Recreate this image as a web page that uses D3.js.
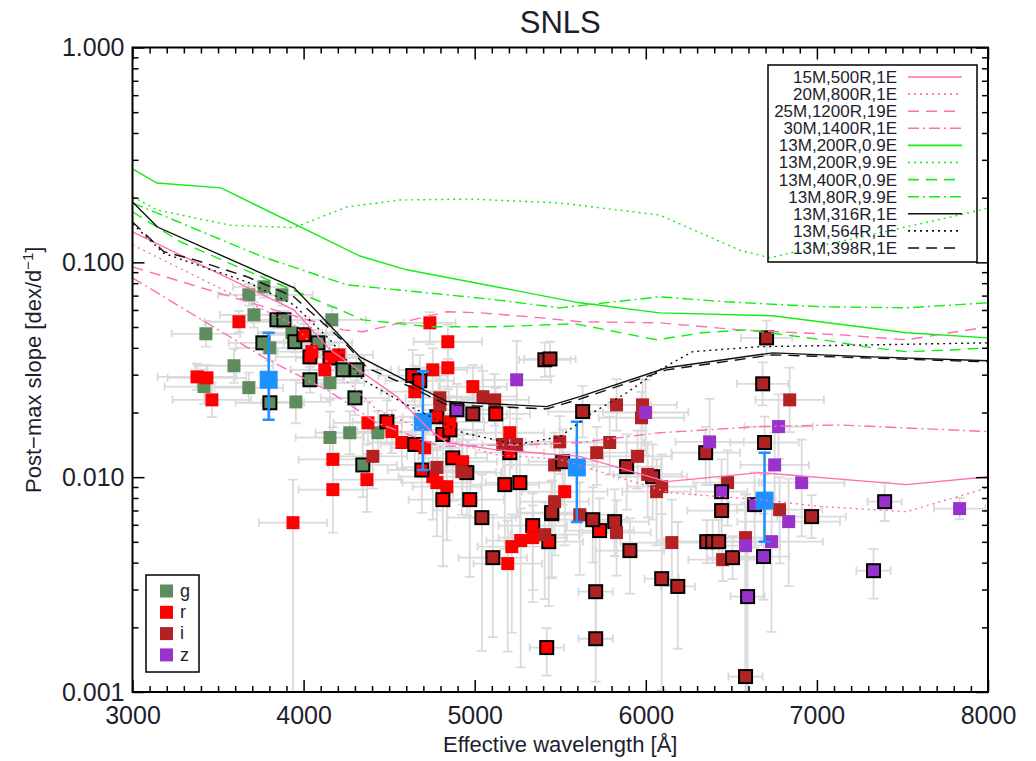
<!DOCTYPE html>
<html>
<head>
<meta charset="utf-8">
<script src="https://cdn.jsdelivr.net/npm/d3@7"></script>
<style>
  body { margin: 0; background: #fff; }
  text { font-family: "Liberation Sans", Arial, sans-serif; fill: #1e1e2e; }
</style>
</head>
<body>
<svg class="chart"></svg>
<script>
// [wavelength, slope, bordered, xerr, dex below, dex above]
const gPoints = [
  [3429,0.0465,0,200,0.06,0.06],[3593,0.0330,0,230,0.08,0.08],[3680,0.0261,0,200,0.07,0.07],
  [3418,0.0264,0,230,0.08,0.08],[3680,0.0706,0,180,0.05,0.05],[3768,0.0769,0,180,0.05,0.05],
  [3873,0.0706,0,180,0.05,0.05],[3710,0.0570,0,200,0.06,0.06],[3932,0.0470,0,200,0.06,0.06],
  [3762,0.0422,1,200,0.05,0.05],[3844,0.0540,1,150,0.04,0.04],[3885,0.0540,1,150,0.04,0.04],
  [3949,0.0427,1,200,0.05,0.05],[4084,0.0422,1,200,0.05,0.06],[4154,0.0275,0,200,0.08,0.08],
  [4165,0.0540,0,200,0.06,0.06],[4037,0.0284,1,200,0.06,0.06],[4230,0.0316,1,200,0.06,0.06],
  [3803,0.0222,1,200,0.08,0.08],[3955,0.0224,0,200,0.1,0.1],[4270,0.0161,0,200,0.1,0.1],
  [4154,0.0153,0,200,0.12,0.12],[4300,0.0234,1,200,0.08,0.08],[4311,0.0316,1,200,0.06,0.06],
  [4346,0.0114,1,200,0.15,0.15],[4434,0.0161,0,200,0.1,0.1],[3803,0.0400,0,200,0.06,0.06]
];
const rPoints = [
  [3377,0.0293,0,230,0.06,0.06],[3435,0.0290,0,230,0.06,0.06],[3464,0.0229,0,230,0.08,0.08],
  [3622,0.0529,0,200,0.05,0.05],[4002,0.0460,1,200,0.05,0.05],[4037,0.0363,1,200,0.06,0.06],
  [4048,0.0384,0,200,0.06,0.06],[4154,0.0359,1,200,0.06,0.06],[4206,0.0371,0,200,0.06,0.06],
  [4124,0.0316,0,200,0.07,0.07],[4171,0.0121,0,200,0.15,0.15],[4171,0.00875,0,200,0.2,0.15],
  [4370,0.00974,0,200,0.15,0.12],[4376,0.0179,0,200,0.1,0.1],[4487,0.0181,1,200,0.1,0.1],
  [4516,0.0163,0,200,0.1,0.1],[4574,0.0145,0,200,0.12,0.12],[4650,0.0142,1,200,0.12,0.12],
  [4708,0.0137,0,200,0.12,0.12],[4738,0.0523,0,150,0.1,0.05],[4843,0.0427,0,200,0.08,0.08],
  [4843,0.0323,0,200,0.1,0.1],[4755,0.0316,0,200,0.1,0.1],[4638,0.0297,1,200,0.12,0.12],
  [4679,0.0281,1,200,0.12,0.12],[4650,0.0250,0,200,0.12,0.12],[4779,0.0191,1,200,0.15,0.12],
  [5123,0.0197,1,200,0.12,0.12],[4989,0.0264,0,200,0.1,0.1],[4814,0.0158,1,200,0.15,0.12],
  [4855,0.0166,1,200,0.15,0.12],[4855,0.0181,0,200,0.12,0.12],[5205,0.0161,0,200,0.15,0.12],
  [5205,0.0130,1,200,0.15,0.12],[4872,0.0123,1,200,0.2,0.15],[4930,0.0118,0,200,0.2,0.15],
  [4779,0.00943,0,200,0.25,0.15],[4837,0.00903,0,200,0.25,0.15],[4755,0.01005,0,200,0.2,0.15],
  [4814,0.00786,1,200,0.31,0.15],[4971,0.00786,1,200,0.36,0.15],[5176,0.00923,1,200,0.3,0.15],
  [5264,0.00943,1,200,0.3,0.15],[5526,0.00856,0,250,0.25,0.15],[4691,0.0108,1,200,0.2,0.15],
  [5450,0.00676,1,200,0.3,0.15],[5339,0.00595,1,200,0.3,0.15],[5339,0.00523,0,200,0.3,0.15],
  [5433,0.00501,1,200,0.3,0.15],[5269,0.00507,0,200,0.59,0.15],[5217,0.00475,0,200,0.4,0.15],
  [5193,0.00396,0,200,0.41,0.2],[5730,0.00564,1,200,0.3,0.15],[5421,0.00161,1,100,0.13,0.09],
  [3938,0.00614,0,200,0.9,0.2]
];
const iPoints = [
  [4796,0.0234,0,200,0.12,0.12],[4796,0.0217,0,200,0.12,0.12],[4989,0.0197,1,200,0.12,0.12],
  [5048,0.0237,0,200,0.12,0.12],[5117,0.0229,0,200,0.12,0.12],[5410,0.0352,1,150,0.08,0.08],
  [5440,0.0355,1,150,0.08,0.08],[5164,0.0142,0,200,0.15,0.12],[5245,0.0142,0,200,0.15,0.12],
  [4954,0.0105,1,200,0.2,0.15],[4925,0.0106,0,200,0.2,0.15],[4779,0.0111,0,200,0.2,0.15],
  [5467,0.0114,0,250,0.2,0.15],[5450,0.00684,1,200,0.3,0.15],[5497,0.0146,0,200,0.15,0.12],
  [4405,0.0125,0,200,0.15,0.12],[5042,0.00648,1,200,0.62,0.2],[6706,0.0445,1,150,0.08,0.08],
  [6683,0.0272,1,150,0.1,0.1],[6841,0.0229,0,200,0.15,0.15],[5631,0.0202,1,200,0.12,0.12],
  [5829,0.0217,0,200,0.12,0.12],[5981,0.0217,0,200,0.12,0.12],[5975,0.0189,0,250,0.15,0.12],
  [5789,0.0145,0,200,0.15,0.12],[5713,0.0130,0,200,0.15,0.12],[5888,0.0112,1,200,0.2,0.15],
  [5952,0.0125,0,200,0.15,0.12],[6040,0.01005,1,200,0.2,0.15],[6011,0.0103,0,200,0.2,0.15],
  [6063,0.00856,0,200,0.25,0.15],[6093,0.00903,0,200,0.25,0.15],[6350,0.0130,1,200,0.15,0.12],
  [6694,0.0145,1,200,0.15,0.12],[6443,0.00699,1,200,0.2,0.15],[6478,0.00943,0,200,0.2,0.15],
  [6782,0.00706,0,250,0.25,0.15],[6969,0.00655,1,200,0.1,0.1],[5614,0.00669,0,200,0.28,0.15],
  [5690,0.00634,1,200,0.2,0.15],[5818,0.00621,1,200,0.16,0.15],[5829,0.00552,0,200,0.2,0.15],
  [5514,0.0118,1,200,0.2,0.15],[5467,0.00769,0,200,0.25,0.15],[5409,0.00540,0,200,0.3,0.15],
  [5106,0.00422,1,200,0.37,0.2],[5907,0.00455,1,200,0.2,0.15],[6152,0.00496,0,300,0.2,0.2],
  [6093,0.00337,1,100,0.52,0.3],[6187,0.00310,1,100,0.29,0.3],[5707,0.00293,1,100,0.2,0.3],
  [5707,0.00177,1,100,0.2,0.2],[6356,0.00501,1,250,0.1,0.1],[6391,0.00501,1,250,0.1,0.1],
  [6426,0.00501,1,250,0.1,0.1],[6583,0.00523,0,200,0.3,0.2],[6449,0.00413,0,200,0.1,0.1],
  [6507,0.00422,1,150,0.1,0.1],[6583,0.00118,1,100,0.1,0.85]
];
const zPoints = [
  [4896,0.0206,1,200,0.15,0.12],[5245,0.0284,0,200,0.64,0.18],[5999,0.0200,0,250,0.2,0.15],
  [6373,0.0146,0,200,0.2,0.2],[6776,0.0172,0,200,0.15,0.15],[6753,0.0114,0,200,0.2,0.15],
  [6911,0.00943,0,250,0.25,0.2],[6443,0.00856,1,150,0.2,0.15],[6636,0.00745,1,150,0.2,0.15],
  [6835,0.00621,0,300,0.3,0.2],[7396,0.00769,1,100,0.09,0.09],[7834,0.00714,0,150,0.05,0.05],
  [6583,0.00480,0,200,0.8,0.2],[6688,0.00427,1,150,0.2,0.2],[7331,0.00367,1,100,0.13,0.1],
  [6595,0.00278,1,100,0.5,0.3],[6735,0.00501,0,300,0.42,0.2]
];
// binned means: [wavelength, mean, low, high]
const meanPoints = [
  [3796,0.0284,0.0185,0.0470],[4697,0.0181,0.0108,0.0311],
  [5597,0.0111,0.00619,0.0181],[6694,0.00778,0.00501,0.0130]
];

// model curves [wavelength, slope]
const m15M500R = [[3000,0.1387],[3943,0.0601],[4154,0.0392],[4545,0.0237],[4738,0.0166],[4837,0.0145],
  [5129,0.0134],[5614,0.0125],[6122,0.00953],[6665,0.0105],[7524,0.00923],[8000,0.01005]];
const m20M800R = [[3000,0.1206],[3943,0.0512],[4154,0.0334],[4428,0.0206],[4837,0.0149],[5129,0.0127],
  [5497,0.0121],[5830,0.01005],[6140,0.00847],[6665,0.00786],[7033,0.00729],[7524,0.00691],[8000,0.00894]];
const m25M1200R = [[3000,0.0953],[3961,0.0558],[4230,0.0485],[4346,0.0475],[4638,0.0540],[4837,0.0589],
  [5030,0.0582],[5322,0.0558],[5614,0.0529],[6081,0.0523],[6548,0.0485],[7132,0.0460],[7524,0.0436],
  [7816,0.0475],[8000,0.0501]];
const m30M1400R = [[3000,0.0847],[3762,0.0363],[4154,0.0250],[4428,0.0179],[4796,0.0139],[5322,0.0142],
  [5614,0.0145],[6081,0.0161],[6665,0.0172],[7132,0.0175],[8000,0.0163]];
const m13M200R09 = [[3000,0.272],[3143,0.234],[3517,0.222],[4329,0.107],[4603,0.0923],[5614,0.0648],
  [6081,0.0582],[6741,0.0564],[7524,0.0470],[8000,0.0445]];
const m13M200R99 = [[3000,0.202],[3146,0.175],[3570,0.149],[3943,0.145],[4253,0.181],[4562,0.195],
  [4971,0.197],[5497,0.189],[6081,0.166],[6548,0.114],[6724,0.105],[7057,0.121],[7834,0.166],[8000,0.179]];
const m13M400R09 = [[3000,0.172],[3277,0.125],[3628,0.0943],[4253,0.0582],[4346,0.0540],[4738,0.0501],
  [5129,0.0501],[5585,0.0518],[6064,0.0436],[6332,0.0470],[6589,0.0485],[7033,0.0436],[7325,0.0400],
  [7524,0.0384],[7816,0.0392],[8000,0.0400]];
const m13M80R99 = [[3000,0.189],[3762,0.106],[4253,0.0786],[4545,0.0745],[5129,0.0669],[5497,0.0614],
  [6081,0.0691],[6472,0.0655],[7033,0.0621],[7524,0.0614],[8000,0.0648]];
const m13M316R = [[3000,0.191],[3146,0.146],[3945,0.0761],[4329,0.0363],[4837,0.0225],[5421,0.0213],
  [5614,0.0237],[6122,0.0323],[6741,0.0379],[7325,0.0363],[8000,0.0348]];
const m13M564R = [[3000,0.151],[3184,0.110],[3669,0.0811],[3943,0.0634],[4154,0.0436],[4346,0.0284],
  [4580,0.0222],[4930,0.0161],[5245,0.0142],[5497,0.0154],[5690,0.0200],[5888,0.0247],[6081,0.0316],
  [6274,0.0384],[6665,0.0405],[7325,0.0413],[8000,0.0422]];
const m13M398R = [[3000,0.154],[3184,0.112],[3359,0.103],[3669,0.0857],[3943,0.0691],[4235,0.0427],
  [4370,0.0323],[4621,0.0264],[4837,0.0217],[5421,0.0208],[5614,0.0231],[6122,0.0316],[6741,0.0371],
  [8000,0.0344]];

const modelNames = ['15M,500R,1E', '20M,800R,1E', '25M,1200R,19E', '30M,1400R,1E',
  '13M,200R,0.9E', '13M,200R,9.9E', '13M,400R,0.9E', '13M,80R,9.9E',
  '13M,316R,1E', '13M,564R,1E', '13M,398R,1E'];
const bandNames = ['g', 'r', 'i', 'z'];
const xTicks = [3000, 4000, 5000, 6000, 7000, 8000];
const yTicks = [0.001, 0.01, 0.1, 1];

const pink = '#ff6fb5', green = '#11ee11';
const dotted = '2,4', dashed = '11,7', dashdot = '11,4,2,4';
const models = [
  {name: modelNames[0], data: m15M500R, color: pink, dash: null},
  {name: modelNames[1], data: m20M800R, color: pink, dash: dotted},
  {name: modelNames[2], data: m25M1200R, color: pink, dash: dashed},
  {name: modelNames[3], data: m30M1400R, color: pink, dash: dashdot},
  {name: modelNames[4], data: m13M200R09, color: green, dash: null},
  {name: modelNames[5], data: m13M200R99, color: green, dash: dotted},
  {name: modelNames[6], data: m13M400R09, color: green, dash: dashed},
  {name: modelNames[7], data: m13M80R99, color: green, dash: dashdot},
  {name: modelNames[8], data: m13M316R, color: '#111', dash: null},
  {name: modelNames[9], data: m13M564R, color: '#111', dash: dotted},
  {name: modelNames[10], data: m13M398R, color: '#111', dash: dashed},
];
const bands = [
  {name: bandNames[0], data: gPoints, color: '#5e8c5e'},
  {name: bandNames[1], data: rPoints, color: '#ff0000'},
  {name: bandNames[2], data: iPoints, color: '#b22222'},
  {name: bandNames[3], data: zPoints, color: '#9932cc'},
];

const margin = {top: 47.5, right: 48, bottom: 69, left: 132.5};
const width = 1036 - margin.left - margin.right;
const height = 761 - margin.top - margin.bottom;

const x = d3.scaleLinear().domain([3000, 8000]).range([0, width]);
const y = d3.scaleLog().domain([0.001, 1]).range([height, 0]);

const svg = d3.select('.chart')
  .attr('width', 1036)
  .attr('height', 761);

const chart = svg.append('g')
  .attr('transform', `translate(${margin.left}, ${margin.top})`);

chart.append('clipPath').attr('id', 'clip')
  .append('rect').attr('width', width).attr('height', height);

const plot = chart.append('g').attr('clip-path', 'url(#clip)');

// error bars
const allPoints = bands.flatMap(b => b.data);
const eb = plot.append('g')
  .attr('stroke', '#dadada')
  .attr('stroke-width', 1.8)
  .attr('fill', 'none');
allPoints.forEach(function(d) {
  const px = x(d[0]), py = y(d[1]);
  const x0 = x(d[0] - d[3]), x1 = x(d[0] + d[3]);
  const y0 = y(d[1] / Math.pow(10, d[4])), y1 = y(d[1] * Math.pow(10, d[5]));
  eb.append('path').attr('d',
    `M${x0},${py}H${x1}M${x0},${py - 4}V${py + 4}M${x1},${py - 4}V${py + 4}` +
    `M${px},${y0}V${y1}M${px - 5},${y0}H${px + 5}M${px - 5},${y1}H${px + 5}`);
});

// data squares
const sq = 13;
bands.forEach(function(b) {
  plot.append('g').selectAll('rect')
    .data(b.data)
    .enter()
  .append('rect')
    .attr('x', d => x(d[0]) - sq / 2)
    .attr('y', d => y(d[1]) - sq / 2)
    .attr('width', sq)
    .attr('height', sq)
    .attr('fill', b.color)
    .attr('stroke', d => d[2] ? '#000' : 'none')
    .attr('stroke-width', 2);
});

// binned means
const mg = plot.append('g');
mg.selectAll('path')
  .data(meanPoints)
  .enter()
.append('path')
  .attr('d', d => `M${x(d[0])},${y(d[2])}V${y(d[3])}M${x(d[0]) - 6},${y(d[2])}H${x(d[0]) + 6}M${x(d[0]) - 6},${y(d[3])}H${x(d[0]) + 6}`)
  .attr('stroke', '#1e90ff')
  .attr('stroke-width', 2.5)
  .attr('fill', 'none');
mg.selectAll('rect')
  .data(meanPoints)
  .enter()
.append('rect')
  .attr('x', d => x(d[0]) - 9)
  .attr('y', d => y(d[1]) - 9)
  .attr('width', 18)
  .attr('height', 18)
  .attr('fill', '#1e90ff');

// model lines
const line = d3.line()
  .x(d => x(d[0]))
  .y(d => y(d[1]));
plot.selectAll('.model')
  .data(models)
  .enter()
.append('path')
  .attr('class', 'model')
  .attr('d', d => line(d.data))
  .attr('fill', 'none')
  .attr('stroke', d => d.color)
  .attr('stroke-width', 1.4)
  .attr('stroke-dasharray', d => d.dash);

// axes, IDL style ticks pointing inwards on all four sides
const xMinor = d3.range(3000, 8001, 100).filter(v => v % 1000);
const yMinor = [];
[0.001, 0.01, 0.1].forEach(function(dec) {
  for (let k = 2; k <= 9; k++) yMinor.push(dec * k);
});

function styleAxis(g) {
  g.select('.domain').remove();
  g.selectAll('line').attr('stroke', '#000').attr('stroke-width', 1.5);
  g.selectAll('text').style('font-size', '25px').attr('fill', '#1e1e2e');
}

chart.append('g')
  .attr('transform', `translate(0, ${height})`)
  .call(d3.axisBottom(x).tickValues(xTicks).tickSize(-12).tickPadding(14).tickFormat(d3.format('d')))
  .call(styleAxis);
chart.append('g')
  .attr('transform', `translate(0, ${height})`)
  .call(d3.axisBottom(x).tickValues(xMinor).tickSize(-6).tickFormat(''))
  .call(styleAxis);
chart.append('g')
  .call(d3.axisTop(x).tickValues(xTicks).tickSize(-12).tickFormat(''))
  .call(styleAxis);
chart.append('g')
  .call(d3.axisTop(x).tickValues(xMinor).tickSize(-6).tickFormat(''))
  .call(styleAxis);

chart.append('g')
  .call(d3.axisLeft(y).tickValues(yTicks).tickSize(-12).tickPadding(8).tickFormat(d3.format('.3f')))
  .call(styleAxis);
chart.append('g')
  .call(d3.axisLeft(y).tickValues(yMinor).tickSize(-6).tickFormat(''))
  .call(styleAxis);
chart.append('g')
  .attr('transform', `translate(${width}, 0)`)
  .call(d3.axisRight(y).tickValues(yTicks).tickSize(-12).tickFormat(''))
  .call(styleAxis);
chart.append('g')
  .attr('transform', `translate(${width}, 0)`)
  .call(d3.axisRight(y).tickValues(yMinor).tickSize(-6).tickFormat(''))
  .call(styleAxis);

chart.append('rect')
  .attr('width', width)
  .attr('height', height)
  .attr('fill', 'none')
  .attr('stroke', '#000')
  .attr('stroke-width', 2);

// titles
svg.append('text')
  .attr('x', margin.left + width / 2)
  .attr('y', 33)
  .attr('text-anchor', 'middle')
  .style('font-size', '31px')
  .text('SNLS');

svg.append('text')
  .attr('x', margin.left + width / 2)
  .attr('y', 752)
  .attr('text-anchor', 'middle')
  .style('font-size', '22px')
  .text('Effective wavelength [Å]');

const yl = svg.append('text')
  .attr('transform', `translate(41, ${margin.top + height / 2}) rotate(-90)`)
  .attr('text-anchor', 'middle')
  .style('font-size', '22px');
yl.append('tspan').text('Post\u2212max slope [dex/d');
yl.append('tspan').attr('dy', -8).style('font-size', '15px').text('\u22121');
yl.append('tspan').attr('dy', 8).text(']');

// model legend, top right
const lg = svg.append('g');
lg.append('rect')
  .attr('x', 768).attr('y', 65)
  .attr('width', 209).attr('height', 197)
  .attr('fill', 'none')
  .attr('stroke', '#000')
  .attr('stroke-width', 1.5);
const rows = lg.selectAll('.row')
  .data(models)
  .enter()
.append('g')
  .attr('class', 'row')
  .attr('transform', (d, i) => `translate(0, ${77 + i * 17.1})`);
rows.append('text')
  .attr('x', 897)
  .attr('dy', '0.35em')
  .attr('text-anchor', 'end')
  .style('font-size', '17px')
  .text(d => d.name);
rows.append('line')
  .attr('x1', 908).attr('x2', 962)
  .attr('stroke', d => d.color)
  .attr('stroke-width', 1.6)
  .attr('stroke-dasharray', d => d.dash);

// band legend, bottom left
const bl = svg.append('g');
bl.append('rect')
  .attr('x', 146).attr('y', 575)
  .attr('width', 53).attr('height', 97)
  .attr('fill', 'none')
  .attr('stroke', '#000')
  .attr('stroke-width', 1.5);
const brows = bl.selectAll('.brow')
  .data(bands)
  .enter()
.append('g')
  .attr('class', 'brow')
  .attr('transform', (d, i) => `translate(0, ${591 + i * 21.3})`);
brows.append('rect')
  .attr('x', 160).attr('y', -6.5)
  .attr('width', 13).attr('height', 13)
  .attr('fill', d => d.color);
brows.append('text')
  .attr('x', 180)
  .attr('dy', '0.32em')
  .style('font-size', '18px')
  .text(d => d.name);
</script>
</body>
</html>
